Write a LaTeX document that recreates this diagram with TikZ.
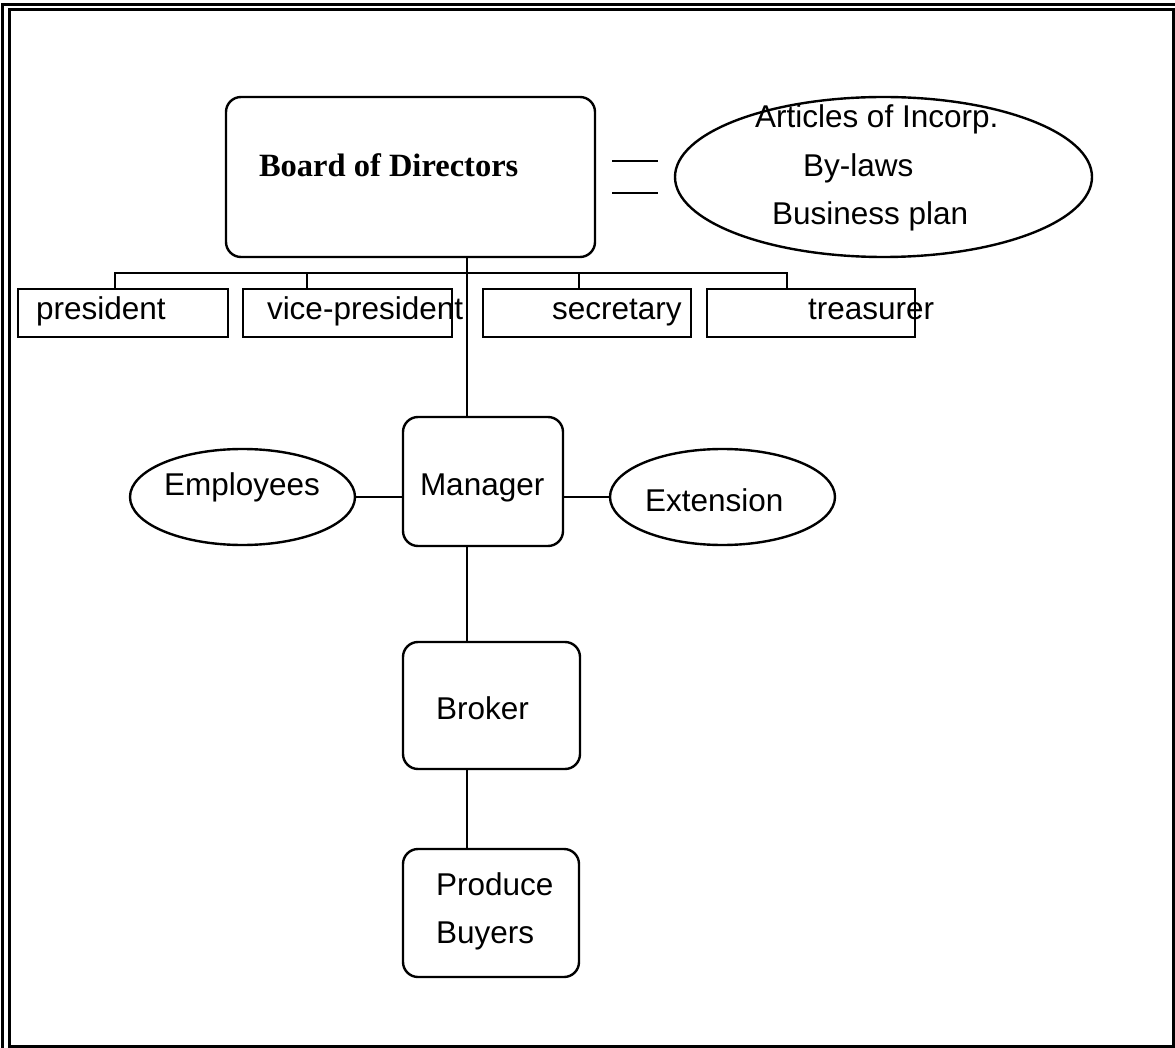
\documentclass[tikz,border=0pt]{standalone}
\usepackage{fontspec}
\setmainfont{Liberation Sans}
\newfontfamily\titlefont{Liberation Serif}
\usetikzlibrary{shapes.geometric}

\begin{document}
\begin{tikzpicture}[x=1pt,y=-1pt,
  every node/.style={inner sep=0pt,outer sep=0pt},
  line/.style={line width=2.4pt},
  rbox/.style={draw,line width=2.4pt,rounded corners=15pt},
  obox/.style={draw,line width=2.4pt,minimum height=48pt},
  oval/.style={draw,line width=2.4pt,ellipse},
  lbl/.style={anchor=base west,font=\fontsize{31.5}{45}\selectfont},
  title/.style={anchor=base west,font=\titlefont\bfseries\fontsize{32.5}{45}\selectfont}]

\useasboundingbox (0,0) rectangle (1175,1048);

% page frame: double rule on the left and top, single elsewhere
\draw[line width=3pt] (2.5,1048) -- (2.5,4.5) -- (1175,4.5);
\draw[line width=3pt] (9,1046) -- (9,10) -- (1173.5,10) -- (1173.5,1046) -- cycle;

% board and its documents
\node[rbox,minimum width=369pt,minimum height=160pt] (board) at (410.5,177) {};
\node[title] (boardt) at (259,177) {Board of Directors};
\node[oval,minimum width=417pt,minimum height=160pt] (docs) at (883.5,177) {};
\node[lbl] (docs1) at (755,128) {Articles of Incorp.};
\node[lbl] (docs2) at (803,177) {By-laws};
\node[lbl] (docs3) at (772,225) {Business plan};
\coordinate (eq) at (612,161);
\draw[line] (eq) -- ++(46,0);
\draw[line] (eq) ++(0,32) -- ++(46,0);

% officers
\node[obox,minimum width=210pt] (pres) at (123,313) {};
\node[obox,minimum width=209pt] (vice) at (347.5,313) {};
\node[obox,minimum width=208pt] (secr) at (587,313) {};
\node[obox,minimum width=208pt] (trea) at (811,313) {};
\node[lbl] (prest) at (36,320) {president};
\node[lbl] (vicet) at (267,320) {vice-president};
\node[lbl] (secrt) at (552,320) {secretary};
\node[lbl] (treat) at (808,320) {treasurer};

\coordinate (bar) at (0,273);
\coordinate (t1) at (115,0);
\coordinate (t2) at (307,0);
\coordinate (t3) at (579,0);
\coordinate (t4) at (787,0);
\draw[line] (pres.north -| t1) -- (bar -| t1) -- (bar -| t4) -- (trea.north -| t4);
\draw[line] (bar -| t2) -- (vice.north -| t2);
\draw[line] (bar -| t3) -- (secr.north -| t3);

% manager and the chain below
\node[rbox,minimum width=160pt,minimum height=129pt] (mgr) at (483,481.5) {};
\node[lbl] (mgrt) at (420,495) {Manager};
\node[oval,minimum width=225pt,minimum height=96pt] (emp) at (242.5,497) {};
\node[lbl] (empt) at (164,495) {Employees};
\node[oval,minimum width=225pt,minimum height=96pt] (ext) at (722.5,497) {};
\node[lbl] (extt) at (645,511) {Extension};
\node[rbox,minimum width=177pt,minimum height=127pt] (brk) at (491.5,705.5) {};
\node[lbl] (brkt) at (436,719) {Broker};
\node[rbox,minimum width=176pt,minimum height=128pt] (buy) at (491,913) {};
\node[lbl] (buyt1) at (436,895) {Produce};
\node[lbl] (buyt2) at (436,943) {Buyers};

\coordinate (spine) at (467,0);
\draw[line] (board.south -| spine) -- (mgr.north -| spine);
\draw[line] (mgr.south -| spine) -- (brk.north -| spine);
\draw[line] (brk.south -| spine) -- (buy.north -| spine);
\draw[line] (emp.east) -- (emp.east -| mgr.west);
\draw[line] (mgr.east |- ext.west) -- (ext.west);

\end{tikzpicture}
\end{document}
